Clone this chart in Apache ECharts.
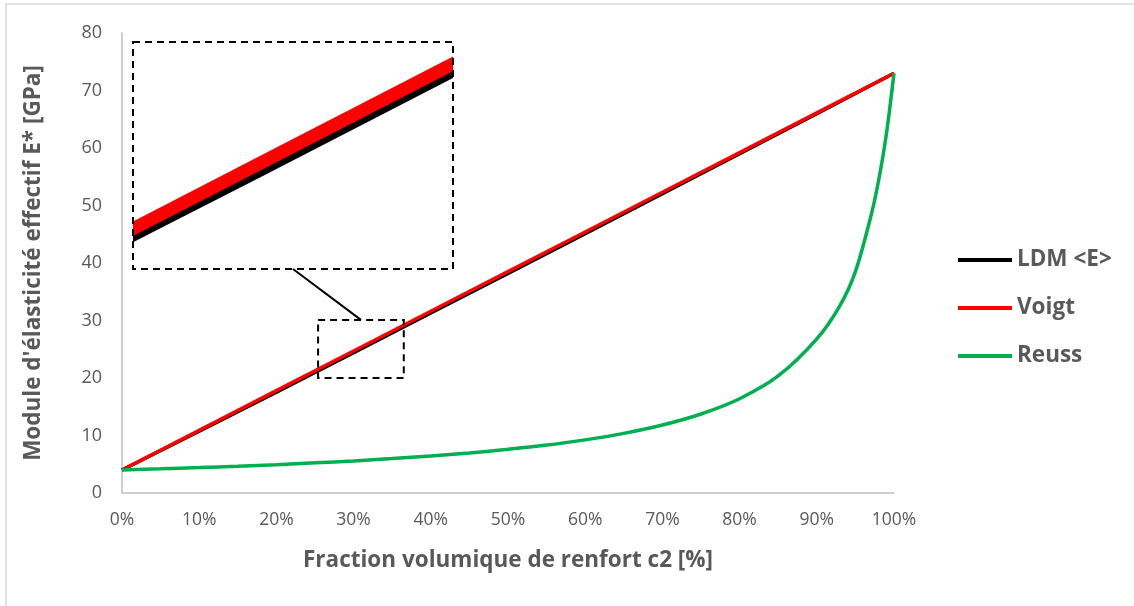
<!DOCTYPE html>
<html>
<head>
<meta charset="utf-8">
<script src="https://cdn.jsdelivr.net/npm/echarts@6/dist/echarts.min.js"></script>
<style>
  html, body { margin: 0; padding: 0; background: #fff; }
  #chart { width: 1134px; height: 606px; }
</style>
</head>
<body>
<div id="chart"></div>
<script>
// volume fraction c2 [%] and modulus E* [GPa]
const cLin = [0, 10, 20, 30, 40, 50, 60, 70, 80, 90, 100];
const ldm = [4, 10.75, 17.55, 24.4, 31.3, 38.2, 45.1, 52.05, 59.0, 65.95, 73];
const voigt = [4, 10.9, 17.8, 24.7, 31.6, 38.5, 45.4, 52.3, 59.2, 66.1, 73];
const cReuss = [0, 5, 10, 15, 20, 25, 30, 35, 40, 45, 50, 55, 60, 65, 70, 75, 80, 85, 90, 93, 95, 97, 98, 99, 100];
const reuss = [4, 4.2, 4.42, 4.66, 4.93, 5.24, 5.58, 5.98, 6.43, 6.96, 7.59, 8.33, 9.24, 10.37, 11.82, 13.74, 16.4, 20.35, 26.8, 32.6, 38.5, 48.1, 54.3, 62.3, 73];
const xTicks = [0, 10, 20, 30, 40, 50, 60, 70, 80, 90, 100];
// dashed window on the main chart, and the range the inset magnifies
const zoomX = [25.4, 36.5];
const zoomY = [20, 30.1];
const insetX = [26.0, 36.2];
const insetY = [20, 30.1];

const pairs = (xs, ys) => xs.map((x, i) => [x, ys[i]]);
const font = '"Open Sans", sans-serif';
const grey = '#595959';
const insetW = 13;          // line width inside the inset
const pad = insetW / 2;     // ECharts widens the clip rect by half the line width

const chart = echarts.init(document.getElementById('chart'));

const seriesDefs = [
  { name: 'LDM <E>', color: '#000000', data: pairs(cLin, ldm), smooth: false },
  { name: 'Voigt', color: '#FF0000', data: pairs(cLin, voigt), smooth: false },
  { name: 'Reuss', color: '#00B050', data: pairs(cReuss, reuss), smooth: 0.3 }
];

const series = [];
seriesDefs.forEach(s => {
  series.push({
    name: s.name, type: 'line', xAxisIndex: 0, yAxisIndex: 0,
    data: s.data, smooth: s.smooth, symbol: 'none',
    itemStyle: { color: s.color },
    lineStyle: { color: s.color, width: 3.5 }
  });
});
// inset copies (only the two straight lines pass through the window)
seriesDefs.slice(0, 2).forEach(s => {
  series.push({
    name: s.name, type: 'line', xAxisIndex: 1, yAxisIndex: 1,
    data: s.data, symbol: 'none', silent: true,
    itemStyle: { color: s.color },
    lineStyle: { color: s.color, width: insetW, cap: 'butt' }
  });
});

chart.setOption({
  animation: false,
  textStyle: { fontFamily: font },
  grid: [
    { left: 122, top: 33, right: 240, bottom: 113 },
    { left: 133 + pad, top: 42, width: 320 - 2 * pad, height: 227 }
  ],
  legend: {
    orient: 'vertical',
    left: 958, top: 248, padding: 0,
    icon: 'rect',
    itemWidth: 54, itemHeight: 4, itemGap: 24,
    data: ['LDM <E>', 'Voigt', 'Reuss'],
    textStyle: { color: grey, fontSize: 22.5, fontWeight: 'bold', fontFamily: font, lineHeight: 24 }
  },
  xAxis: [
    {
      type: 'value', gridIndex: 0, min: 0, max: 100, interval: 10,
      name: 'Fraction volumique de renfort c2 [%]',
      nameLocation: 'middle', nameGap: 56,
      nameTextStyle: { color: grey, fontSize: 22.5, fontWeight: 'bold', fontFamily: font },
      axisLine: { lineStyle: { color: '#BFBFBF', width: 1.5 } },
      axisTick: { show: false },
      splitLine: { show: false },
      axisLabel: { color: grey, fontSize: 17.5, margin: 18, formatter: v => xTicks.includes(v) ? v + '%' : '' }
    },
    { type: 'value', gridIndex: 1, min: insetX[0], max: insetX[1], show: false }
  ],
  yAxis: [
    {
      type: 'value', gridIndex: 0, min: 0, max: 80, interval: 10,
      name: "Module d'élasticité effectif E* [GPa]",
      nameLocation: 'middle', nameGap: 77,
      nameTextStyle: { color: grey, fontSize: 22.5, fontWeight: 'bold', fontFamily: font },
      axisLine: { show: true, lineStyle: { color: '#BFBFBF', width: 1.5 } },
      axisTick: { show: false },
      splitLine: { show: false },
      axisLabel: { color: grey, fontSize: 18, margin: 20 }
    },
    { type: 'value', gridIndex: 1, min: insetY[0], max: insetY[1], show: false }
  ],
  series: series
});

// annotation boxes derived from the axes
const p0 = chart.convertToPixel({ gridIndex: 0 }, [zoomX[0], zoomY[0]]);
const p1 = chart.convertToPixel({ gridIndex: 0 }, [zoomX[1], zoomY[1]]);
const q0 = chart.convertToPixel({ gridIndex: 1 }, [insetX[0], insetY[0]]);
const q1 = chart.convertToPixel({ gridIndex: 1 }, [insetX[1], insetY[1]]);
const dash = { stroke: '#000', lineWidth: 2, lineDash: [7, 5], fill: 'none' };

chart.setOption({
  graphic: [
    { type: 'rect', shape: { x: 6, y: 4, width: 1200, height: 700 }, style: { stroke: '#D9D9D9', lineWidth: 1.5, fill: 'none' }, z: -1, silent: true },
    { type: 'rect', shape: { x: p0[0], y: p1[1], width: p1[0] - p0[0], height: p0[1] - p1[1] }, style: dash, z: 10 },
    { type: 'rect', shape: { x: q0[0] - pad, y: q1[1], width: q1[0] - q0[0] + 2 * pad, height: q0[1] - q1[1] }, style: dash, z: 10 },
    {
      type: 'polyline', z: 10,
      shape: { points: [[(q0[0] + q1[0]) / 2, q0[1]], [(p0[0] + p1[0]) / 2, p1[1]]] },
      style: { stroke: '#000', lineWidth: 2, fill: 'none' }
    }
  ]
});
</script>
</body>
</html>
